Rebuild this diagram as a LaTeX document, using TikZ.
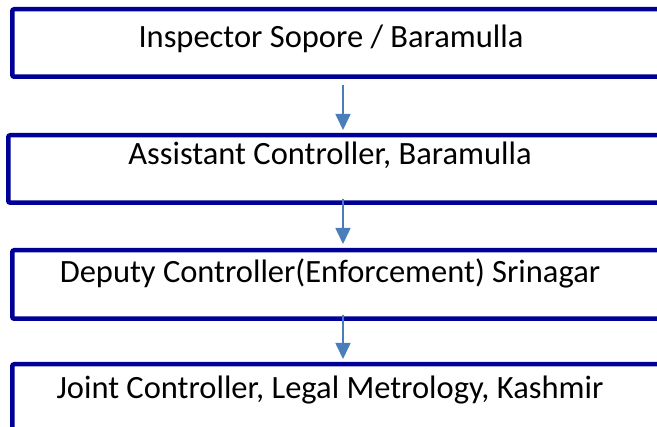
\documentclass[tikz,border=0pt]{standalone}
\usepackage{fontspec}
\setmainfont{Carlito}
\usetikzlibrary{arrows.meta}
\definecolor{navy}{RGB}{0,0,150}
\definecolor{arrblue}{RGB}{74,126,187}
\tikzset{
  box/.style={draw=navy, line width=4.5pt, rounded corners=2pt, fill=white},
  lbl/.style={anchor=base, inner sep=0pt, font=\fontsize{32.5}{38}\selectfont, text=black},
  conn/.style={draw=arrblue, line width=1.6pt, -{Triangle[width=15pt,length=16pt]}}
}
\begin{document}
\begin{tikzpicture}[x=1pt,y=-1pt]
\useasboundingbox (0,0) rectangle (657,427);
% boxes
\draw[box] (12.25,9.25) rectangle (690,76.75);
\draw[box] (8.25,135.25) rectangle (690,202.75);
\draw[box] (12.25,250.25) rectangle (690,318.75);
\draw[box] (12.25,364.25) rectangle (690,460);
% labels
\node[lbl] (t1) at (331,48) {Inspector Sopore / Baramulla};
\node[lbl] (t2) at (330,165) {Assistant Controller, Baramulla};
\node[lbl] (t3) at (330,283) {Deputy Controller(Enforcement) Srinagar};
\node[lbl] (t4) at (330,399) {Joint Controller, Legal Metrology, Kashmir};
% arrow ends
\coordinate (a1s) at (343,85);
\coordinate (a1e) at (343,130);
\coordinate (a2s) at (343,199);
\coordinate (a2e) at (343,244);
\coordinate (a3s) at (343,315);
\coordinate (a3e) at (343,359);
\draw[conn] (a1s) -- (a1e);
\draw[conn] (a2s) -- (a2e);
\draw[conn] (a3s) -- (a3e);
\end{tikzpicture}
\end{document}
